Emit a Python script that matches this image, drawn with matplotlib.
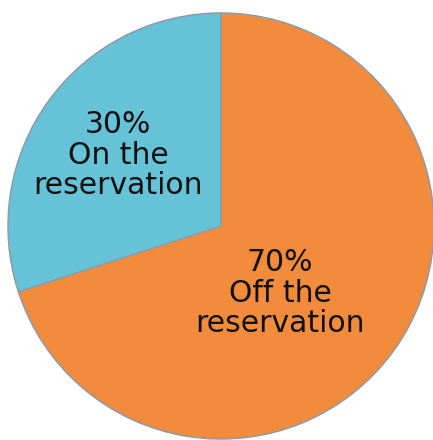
import matplotlib.pyplot as plt

# Share of population living on / off the reservation
labels = ['70%\nOff the\nreservation', '30%\nOn the\nreservation']
shares = [70, 30]
colors = ['#F28C3C', '#66C2D6']
# label centres in pixels (x, y from top)
label_px = [(280, 293), (118, 155)]

W, H = 433, 440
cx, cy, r = 221, 226, 213  # pie centre and radius, in pixels

fig = plt.figure(figsize=(W / 100, H / 100), dpi=100)
ax = fig.add_axes([0, 0, 1, 1])

ax.pie(shares, colors=colors, startangle=90, counterclock=False,
       wedgeprops=dict(edgecolor='#8E9BA8', linewidth=1.1))

for lab, (px, py) in zip(labels, label_px):
    ax.text((px - cx) / r, (cy - py) / r, lab, ha='center', va='center',
            fontsize=21.5, linespacing=1.07, color='#111111')

ax.set_xlim(-cx / r, (W - cx) / r)
ax.set_ylim(-(H - cy) / r, cy / r)
ax.axis('off')

fig.savefig('out.png', dpi=100)
